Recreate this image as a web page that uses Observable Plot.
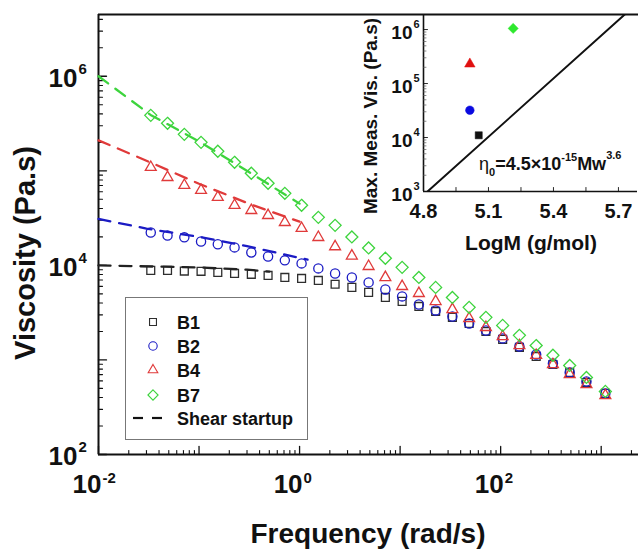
<!DOCTYPE html>
<html><head><meta charset="utf-8">
<script src="https://cdn.jsdelivr.net/npm/d3@7"></script>
<script src="https://cdn.jsdelivr.net/npm/@observablehq/plot@0.6"></script>
<style>
body{margin:0;background:#fff;}
#wrap{position:relative;width:638px;height:549px;overflow:hidden;background:#fff;}
#wrap svg{position:absolute;}
</style></head><body><div id="wrap"></div>
<script>
// ---------- data ----------
const series = ["B1", "B2", "B4", "B7"];
const freq = [0.0331,0.0486,0.0714,0.1047,0.1537,0.2256,0.3311,0.486,0.7134,1.047,1.537,2.256,3.311,4.86,7.134,10.47,15.37,22.56,33.11,48.6,71.34,104.7,153.7,225.6,331.1,486,713.4,1100];
const visB1 = [8850,8850,8710,8650,8430,8220,8040,7830,7460,7280,6930,6310,5850,5180,4580,4160,3680,3260,2820,2430,2000,1650,1360,1090,895,738,578,443];
const visB2 = [22300,20700,19800,17900,16700,15500,13700,12400,11300,10500,9290,8220,7460,6610,5570,4700,3860,3340,2880,2430,2050,1690,1390,1140,918,738,592,443];
const visB4 = [109000,85300,70300,62200,52500,43200,38200,33800,28500,24700,19800,15800,12600,9770,7460,6000,5060,4160,3420,2750,2210,1770,1420,1120,895,703,551,421];
const visB7 = [386000,318000,243000,200000,161000,123000,94200,73800,57800,43200,32200,26500,20000,15300,11900,9530,7460,5850,4580,3600,2820,2320,1820,1420,1120,875,653,465];

// shear startup (dashed)
const startFreqB1 = [0.01, 0.1, 0.3, 0.5];
const startVisB1 = [10000, 9500, 9000, 8600];
const startFreqB2 = [0.01, 0.03, 0.1, 0.3, 1.2];
const startVisB2 = [31000, 24500, 20000, 16000, 11500];
const startFreqB4 = [0.01, 0.03, 0.1, 0.33, 1];
const startVisB4 = [210000, 128000, 73000, 44000, 29000];
const startFreqB7 = [0.01, 0.033, 0.1, 0.33, 1];
const startVisB7 = [1000000, 390000, 205000, 94000, 45000];

// inset
const insetLogM = [5.055, 5.014, 5.014, 5.214];
const insetMaxVis = [11000, 32000, 230000, 1050000];
const fitLogM = [4.8, 5.75];
const fitVis = [857, 2260000];

// tick labels
const xMajor = [0.01, 0.1, 1, 10, 100, 1000];
const xLabelVals = [0.01, 1, 100];
const xLabelExp = ["-2", "0", "2"];
const yMajor = [1e2, 1e3, 1e4, 1e5, 1e6];
const yLabelVals = [1e2, 1e4, 1e6];
const yLabelExp = ["2", "4", "6"];
const insetYVals = [1e3, 1e4, 1e5, 1e6];
const insetYExp = ["3", "4", "5", "6"];
const insetXTicks = [4.8, 4.95, 5.1, 5.25, 5.4, 5.55, 5.7];
const insetXLabels = ["4.8", "5.1", "5.4", "5.7"];
const insetXLabelVals = [4.8, 5.1, 5.4, 5.7];

const colors = ["#2e2e2e", "#1b1bc4", "#e03a3a", "#3dd43d"];
const insetColors = ["#111111", "#0a0ae0", "#e01010", "#2ee82e"];
const mainSymbols = ["square2", "circle", "triangle2", "diamond2"];
const mainR = [5, 4.6, 5.2, 5.4];
const insetSymbols = ["square", "circle", "triangle", "diamond2"];
const insetR = [4, 4.3, 3.9, 4.6];

const FONT = "'Liberation Sans', Arial, sans-serif";
const INK = "#111";

// minor ticks
function logMinor(lo, hi) {
  const out = [];
  for (let e = Math.floor(Math.log10(lo)); e <= Math.ceil(Math.log10(hi)); e++)
    for (let m = 2; m <= 9; m++) { const v = m * Math.pow(10, e); if (v > lo && v < hi) out.push(v); }
  return out;
}
const X0 = 0.01, X1 = 2350, Y0 = 100, Y1 = 4.5e6;
const xMinor = logMinor(X0, X1), yMinor = logMinor(Y0, Y1);
const line = {draw(ctx, l) { ctx.moveTo(0, 0); ctx.lineTo(0, -l); }};

const vis = [visB1, visB2, visB4, visB7];
const startF = [startFreqB1, startFreqB2, startFreqB4, startFreqB7];
const startV = [startVisB1, startVisB2, startVisB4, startVisB7];

const marks = [];
// axes frame
marks.push(Plot.ruleX([X0], {stroke: INK, strokeWidth: 2}));
marks.push(Plot.ruleY([Y0], {stroke: INK, strokeWidth: 2}));
marks.push(Plot.ruleY([Y1], {stroke: INK, strokeWidth: 2}));
// ticks (inward)
marks.push(Plot.vector(xMajor, {x: d => d, y: () => Y0, length: 8, rotate: 0, anchor: "start", shape: line, stroke: INK, strokeWidth: 1.3}));
marks.push(Plot.vector(xMinor, {x: d => d, y: () => Y0, length: 4, rotate: 0, anchor: "start", shape: line, stroke: INK, strokeWidth: 1.1}));
marks.push(Plot.vector(yMajor, {x: () => X0, y: d => d, length: 8, rotate: 90, anchor: "start", shape: line, stroke: INK, strokeWidth: 1.3}));
marks.push(Plot.vector(yMinor, {x: () => X0, y: d => d, length: 4, rotate: 90, anchor: "start", shape: line, stroke: INK, strokeWidth: 1.1}));
// tick labels
marks.push(Plot.text(yLabelVals, {x: () => X0, y: d => d, text: () => "10", textAnchor: "end", dx: -21, dy: 2, fontSize: 26, fontWeight: "bold", fill: INK}));
marks.push(Plot.text(yLabelVals, {x: () => X0, y: d => d, text: (d, i) => yLabelExp[i], textAnchor: "start", dx: -20, dy: -7, fontSize: 15, fontWeight: "bold", fill: INK}));
marks.push(Plot.text(xLabelVals, {x: d => d, y: () => Y0, text: () => "10", textAnchor: "end", dx: 3, dy: 30, fontSize: 26, fontWeight: "bold", fill: INK}));
marks.push(Plot.text(xLabelVals, {x: d => d, y: () => Y0, text: (d, i) => xLabelExp[i], textAnchor: "start", dx: 4, dy: 24, fontSize: 15, fontWeight: "bold", fill: INK}));
// data
series.forEach((s, k) => {
  const pts = freq.map((f, i) => ({f, v: vis[k][i]}));
  marks.push(Plot.dot(pts, {x: "f", y: "v", symbol: mainSymbols[k], r: mainR[k], stroke: colors[k], strokeWidth: 1.3, fill: "none"}));
});
series.forEach((s, k) => {
  const pts = startF[k].map((f, i) => ({f, v: startV[k][i]}));
  marks.push(Plot.line(pts, {x: "f", y: "v", stroke: k === 0 ? "#222" : colors[k], strokeWidth: 2.3, strokeDasharray: "12,9"}));
});

const main = Plot.plot({
  width: 638, height: 549,
  marginLeft: 98, marginRight: 0, marginTop: 14, marginBottom: 95,
  x: {type: "log", domain: [X0, X1], axis: null},
  y: {type: "log", domain: [Y0, Y1], axis: null},
  style: {background: "transparent", fontFamily: FONT, overflow: "visible"},
  marks
});
main.style.left = "0px"; main.style.top = "0px";

// ---------- inset ----------
const IX0 = 4.8, IX1 = 5.788, IY0 = 1000, IY1 = 1.9e6;
const iyMinor = logMinor(IY0, IY1);
const inset = Plot.plot({
  width: 283, height: 262,
  marginLeft: 68, marginRight: 1, marginTop: 14, marginBottom: 71,
  x: {domain: [IX0, IX1], axis: null},
  y: {type: "log", domain: [IY0, IY1], axis: null},
  style: {background: "transparent", fontFamily: FONT, overflow: "visible"},
  marks: [
    Plot.ruleX([IX0], {stroke: INK, strokeWidth: 1.6}),
    Plot.ruleY([IY0], {stroke: INK, strokeWidth: 1.6}),
    Plot.vector(insetXTicks, {x: d => d, y: () => IY0, length: 4, rotate: 0, anchor: "start", shape: line, stroke: INK, strokeWidth: 0.9}),
    Plot.vector(insetYVals, {x: () => IX0, y: d => d, length: 4, rotate: 90, anchor: "start", shape: line, stroke: INK, strokeWidth: 0.9}),
    Plot.vector(iyMinor, {x: () => IX0, y: d => d, length: 2.5, rotate: 90, anchor: "start", shape: line, stroke: "#555", strokeWidth: 0.7}),
    Plot.text(insetYVals, {x: () => IX0, y: d => d, text: () => "10", textAnchor: "end", dx: -11, dy: 3, fontSize: 19, fontWeight: "bold", fill: INK}),
    Plot.text(insetYVals, {x: () => IX0, y: d => d, text: (d, i) => insetYExp[i], textAnchor: "start", dx: -10, dy: -5, fontSize: 11, fontWeight: "bold", fill: INK}),
    Plot.text(insetXLabelVals, {x: d => d, y: () => IY0, text: (d, i) => insetXLabels[i], textAnchor: "middle", dy: 20, fontSize: 20, fontWeight: "bold", fill: INK}),
    Plot.line(fitLogM.map((m, i) => ({m, v: fitVis[i]})), {x: "m", y: "v", stroke: INK, strokeWidth: 2, clip: true}),
    ...series.map((s, k) => Plot.dot([{m: insetLogM[k], v: insetMaxVis[k]}], {x: "m", y: "v", symbol: insetSymbols[k], r: insetR[k], fill: insetColors[k], stroke: insetColors[k], strokeWidth: 0.5}))
  ]
});
inset.style.left = "355px"; inset.style.top = "0px";

const wrap = document.getElementById("wrap");
wrap.appendChild(main);
wrap.appendChild(inset);

// ---------- overlay: titles, legend, formula ----------
const ov = d3.create("svg").attr("width", 638).attr("height", 549).attr("viewBox", "0 0 638 549")
  .style("left", "0px").style("top", "0px").style("font-family", FONT);
ov.append("text").attr("transform", "translate(35,253) rotate(-90)").attr("text-anchor", "middle")
  .attr("font-size", 29).attr("font-weight", "bold").attr("fill", INK).text("Viscosity (Pa.s)");
ov.append("text").attr("x", 368).attr("y", 543).attr("text-anchor", "middle")
  .attr("font-size", 28).attr("font-weight", "bold").attr("fill", INK).text("Frequency (rad/s)");
ov.append("text").attr("transform", "translate(377,116) rotate(-90)").attr("text-anchor", "middle")
  .attr("font-size", 19).attr("font-weight", "bold").attr("fill", INK).text("Max. Meas. Vis. (Pa.s)");
ov.append("text").attr("x", 531).attr("y", 250).attr("text-anchor", "middle")
  .attr("font-size", 21).attr("font-weight", "bold").attr("fill", INK).text("LogM (g/mol)");

// formula
const ft = ov.append("text").attr("x", 479).attr("y", 170).attr("font-size", 18).attr("font-weight", "bold").attr("fill", INK);
ft.append("tspan").attr("font-weight", "normal").text("η");
ft.append("tspan").attr("font-size", 11).attr("dy", 6).text("0");
ft.append("tspan").attr("dy", -6).text("=4.5×10");
ft.append("tspan").attr("font-size", 11).attr("dy", -9).text("-15");
ft.append("tspan").attr("dy", 9).text("Mw");
ft.append("tspan").attr("font-size", 11).attr("dy", -11).text("3.6");

// legend
const lg = ov.append("g");
lg.append("rect").attr("x", 125.5).attr("y", 297.5).attr("width", 182).attr("height", 142)
  .attr("fill", "#fff").attr("stroke", "#777").attr("stroke-width", 1);
const legendRows = [322, 346, 370, 395, 418];
const legendLabels = ["B1", "B2", "B4", "B7", "Shear startup"];
const d3Sym = [d3.symbolSquare2, d3.symbolCircle, d3.symbolTriangle2, d3.symbolDiamond2];
const legR = [4.4, 4.2, 4.6, 4.6];
series.forEach((s, k) => {
  lg.append("path").attr("transform", `translate(153,${legendRows[k]})`)
    .attr("d", d3.symbol(d3Sym[k], Math.PI * legR[k] * legR[k])())
    .attr("fill", "none").attr("stroke", colors[k]).attr("stroke-width", 1.1);
});
lg.append("line").attr("x1", 133).attr("x2", 143).attr("y1", 418).attr("y2", 418).attr("stroke", INK).attr("stroke-width", 2.2);
lg.append("line").attr("x1", 152).attr("x2", 162).attr("y1", 418).attr("y2", 418).attr("stroke", INK).attr("stroke-width", 2.2);
legendLabels.forEach((t, i) => {
  lg.append("text").attr("x", 177).attr("y", legendRows[i] + 6.5).attr("font-size", 18).attr("font-weight", "bold").attr("fill", INK).text(t);
});
wrap.appendChild(ov.node());
</script>
</body></html>
